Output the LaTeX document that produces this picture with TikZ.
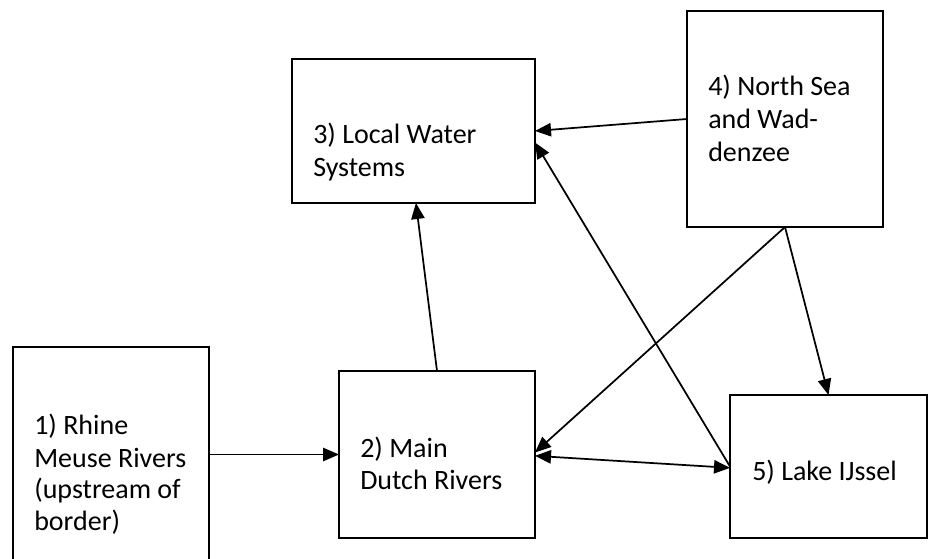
\documentclass[tikz,border=0pt]{standalone}
\usepackage{fontspec}
\setmainfont{Carlito}
\usetikzlibrary{arrows.meta,calc}
\begin{document}
\begin{tikzpicture}[x=0.75pt,y=-0.75pt,
  box/.style={draw,line width=1.5pt,inner sep=0pt,outer sep=0pt,rectangle},
  lbl/.style={anchor=base west,inner sep=0pt,font=\fontsize{21}{24}\selectfont},
  tip/.tip={Triangle[length=12pt,width=10pt]},
  conn/.style={line width=1.3pt,-tip},
  conn2/.style={line width=1.3pt,tip-tip}]
\useasboundingbox (0,0) rectangle (928,559);
\clip (0,0) rectangle (928,559);
\newcommand\mybox[5]{\node[box,minimum width={(#4-#2)*0.75pt},minimum height={(#5-#3)*0.75pt}] (#1) at ({(#2+#4)/2},{(#3+#5)/2}) {};}
\mybox{b1}{13}{347}{209}{600}
\mybox{b2}{339}{371}{535}{538}
\mybox{b3}{292}{59}{535}{203}
\mybox{b4}{687}{11}{883}{227}
\mybox{b5}{730}{395}{927}{538}
% texts
\node[lbl] (t1a) at (34,435) {1) Rhine};
\node[lbl] (t1b) at (34,467) {Meuse Rivers};
\node[lbl] (t1c) at (34,498) {(upstream of};
\node[lbl] (t1d) at (34,530) {border)};
\node[lbl] (t2a) at (360,457) {2) Main};
\node[lbl] (t2b) at (360,489) {Dutch Rivers};
\node[lbl] (t3a) at (313,144) {3) Local Water};
\node[lbl] (t3b) at (313,177) {Systems};
\node[lbl] (t4a) at (708,96) {4) North Sea};
\node[lbl] (t4b) at (708,129) {and Wad-};
\node[lbl] (t4c) at (708,162) {denzee};
\node[lbl] (t5) at (752,480) {5) Lake IJssel};
% connectors
\draw[conn] (b1.east |- b2.west) -- (b2.west);
\draw[conn] (b2.north) -- ($(b3.south west)!0.51!(b3.south east)$);
\draw[conn] (b4.west) -- (b3.east);
\draw[conn] (b5.west) -- ($(b3.north east)!0.58!(b3.south east)$);
\draw[conn] (b4.south) -- ([yshift=1.5pt]b2.east);
\draw[conn] (b4.south) -- (b5.north);
\draw[conn2] ([yshift=-1pt]b2.east) -- ([yshift=-1pt]b5.west);
\end{tikzpicture}
\end{document}
